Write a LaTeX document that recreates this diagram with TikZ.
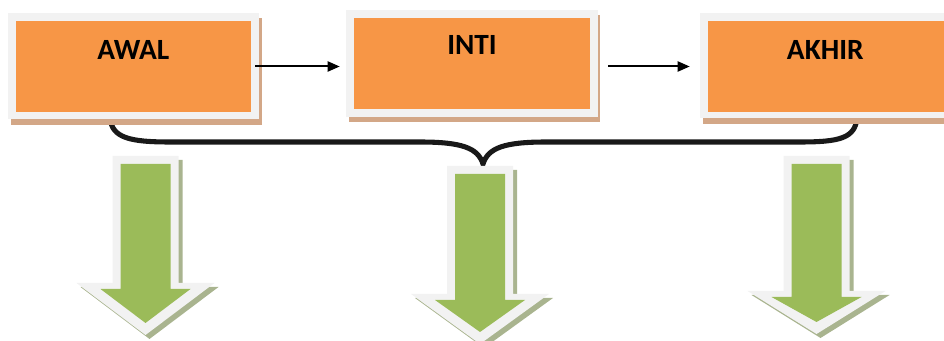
\documentclass[tikz,border=0pt]{standalone}
\usepackage{fontspec}
\setmainfont{Carlito}
\usetikzlibrary{arrows.meta,fit}

\definecolor{boxorange}{HTML}{F79646}
\definecolor{framegray}{HTML}{F2F2F2}
\definecolor{boxshadow}{HTML}{D3A787}
\definecolor{arrowgreen}{HTML}{9BBB59}
\definecolor{arrowshadow}{HTML}{A9B48F}

\tikzset{
  framebox/.style={inner sep=0pt, fill=framegray},
  stagebox/.style={inner sep=0pt, fill=boxorange},
  stagelabel/.style={inner sep=0pt, anchor=base, font=\bfseries\fontsize{22}{26}\selectfont},
  flowline/.style={line width=1.5pt, -{Triangle[length=9pt,width=7.5pt]}},
  bracket/.style={line width=3.8pt, black!90},
}

% block arrow pointing down: centre x, shaft top, head base, tip (inner green part)
\newcommand\greenarrow[4]{%
  \fill[arrowshadow, shift={(4,4)}]
    (#1-33,#2-8) -- (#1+33,#2-8) -- (#1+33,#3-6) -- (#1+69,#3-6)
    -- (#1,#4+12) -- (#1-69,#3-6) -- (#1-33,#3-6) -- cycle;
  \fill[framegray]
    (#1-33,#2-8) -- (#1+33,#2-8) -- (#1+33,#3-6) -- (#1+69,#3-6)
    -- (#1,#4+12) -- (#1-69,#3-6) -- (#1-33,#3-6) -- cycle;
  \fill[arrowgreen]
    (#1-25,#2) -- (#1+25,#2) -- (#1+25,#3) -- (#1+45,#3)
    -- (#1,#4) -- (#1-45,#3) -- (#1-25,#3) -- cycle;
}

\begin{document}
\begin{tikzpicture}[x=0.75pt, y=-0.75pt]
\useasboundingbox (0,0) rectangle (944,341);
\clip (0,0) rectangle (944,341);

% curly bracket gathering the three stages
\draw[bracket, line cap=round]
  (110,110) -- (110,118)
  .. controls (112,138) and (130,142) .. (170,142) -- (420,142)
  .. controls (462,142) and (478,148) .. (483,164)
  .. controls (488,148) and (504,142) .. (546,142) -- (800,142)
  .. controls (840,142) and (855,138) .. (857,118) -- (857,110);

% stage boxes: shadow, light frame, orange face
\fill[boxshadow] (11,18) rectangle (262,125);
\node[framebox, fit={(8,13)(259,119)}] (awalF) {};
\node[stagebox, fit={(16,21)(251,112)}] (awal) {};
\node[stagelabel] (awalT) at (133.3,59.3) {AWAL};

\fill[boxshadow] (349,15) rectangle (600,122);
\node[framebox, fit={(346,10)(598,117)}] (intiF) {};
\node[stagebox, fit={(354,18)(590,109)}] (inti) {};
\node[stagelabel] (intiT) at (472,55) {INTI};

\fill[boxshadow] (703,18) rectangle (955,124);
\node[framebox, fit={(700,13)(952,118)}] (akhirF) {};
\node[stagebox, fit={(708,21)(944,112)}] (akhir) {};
\node[stagelabel] (akhirT) at (825.3,59.3) {AKHIR};

% flow between stages
\draw[flowline, shorten <=3pt, shorten >=4.5pt]
  (awal.east) -- (awal.east -| intiF.west);
\draw[flowline, shorten <=13.5pt, shorten >=7.5pt]
  (inti.east |- awal.east) -- (awal.east -| akhirF.west);

% block arrows below
\greenarrow{145.5}{164}{289}{323}
\greenarrow{480}{174}{300}{332}
\greenarrow{816.5}{164}{297}{322}
\end{tikzpicture}
\end{document}
